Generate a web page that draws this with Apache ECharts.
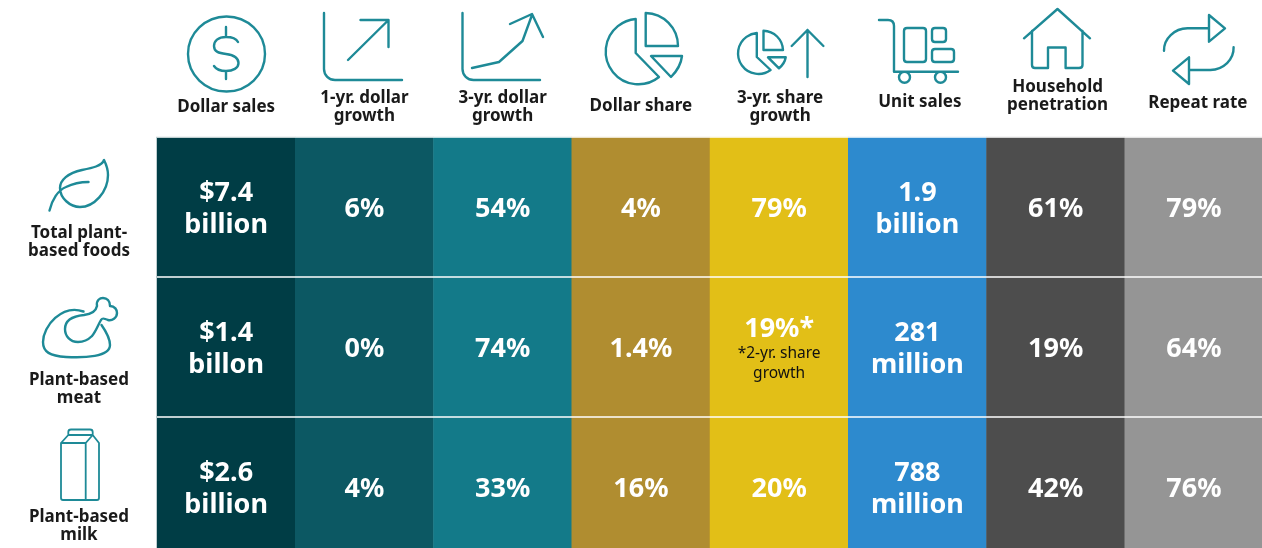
<!DOCTYPE html>
<html>
<head>
<meta charset="utf-8">
<title>Plant-based foods scorecard</title>
<script src="https://cdn.jsdelivr.net/npm/echarts@6/dist/echarts.min.js"></script>
<style>
  html, body { margin: 0; background: #fff; }
  #chart { width: 1262px; height: 548px; }
</style>
</head>
<body>
<div id="chart"></div>
<script>
const metrics = ['Dollar sales', '1-yr. dollar\ngrowth', '3-yr. dollar\ngrowth', 'Dollar share', '3-yr. share\ngrowth', 'Unit sales', 'Household\npenetration', 'Repeat rate']
const products = ['Total plant-\nbased foods', 'Plant-based\nmeat', 'Plant-based\nmilk']

const dollarSales = [7.4, 1.4, 2.6]
const dollarSalesUnits = ['billion', 'billon', 'billion']
const oneYearGrowth = [6, 0, 4]
const threeYearGrowth = [54, 74, 33]
const dollarShare = [4, 1.4, 16]
const shareGrowth = [79, 19, 20]
const unitSales = [1.9, 281, 788]
const unitSalesUnits = ['billion', 'million', 'million']
const penetration = [61, 19, 42]
const repeatRate = [79, 64, 76]

const columnColors = ['#003d45', '#0c5863', '#137a89', '#b08d30', '#e2bf17', '#2d8ace', '#4d4d4d', '#959595']
const teal = '#1e8a97'

// label placement, the headers and row names do not share a baseline
const headerCenters = [107, 107.5, 107.5, 106, 107, 102, 96, 103]
const headerShifts = [0, 0, 0, 0, 1, 2.5, 2, 4]
const rowLabelOffsets = [35, 42, 39]

const percent = (values) => values.map((v) => `${v}%`)
const withUnit = (prefix, values, units) => values.map((v, i) => `${prefix}${v}\n${units[i]}`)

const columns = [dollarSales, oneYearGrowth, threeYearGrowth, dollarShare, shareGrowth, unitSales, penetration, repeatRate]
const cellText = [
  withUnit('$', dollarSales, dollarSalesUnits),
  percent(oneYearGrowth),
  percent(threeYearGrowth),
  percent(dollarShare),
  percent(shareGrowth),
  withUnit('', unitSales, unitSalesUnits),
  percent(penetration),
  percent(repeatRate),
]
// the meat row only has two years of share data
cellText[4][1] = '{big|19%*}\n{note|*2-yr. share}\n{note|growth}'

const cells = []
columns.forEach((column, x) => {
  column.forEach((value, y) => {
    cells.push({ value: [x, y, value], itemStyle: { color: columnColors[x] } })
  })
})

const iconPaths = {
  dollarIcon: 'M265 54 A38.5 37.5 0 1 1 188 54 A38.5 37.5 0 1 1 265 54 Z M238 42 C236 38 232 37 226 37 C218 37 214 41 214 46 C214 52 219 53 226 54 C233 55 238.5 57 238.5 63 C238.5 68 233 71 226 71 C220 71 216 69 214 66 M226 27 V37 M226 71 V79',
  oneYearIcon: 'M324 13 V69 A11 11 0 0 0 335 80 H402 M348 60 L388.5 20 M360.5 20 H388.5 V47',
  threeYearIcon: 'M462.5 13 V69 A11 11 0 0 0 473.5 80 H540 M472 68 L499 62 L522.5 41 L532 15 M510 24 L532 14 L543 37',
  shareIcon: 'M635.7 19 V53 L659 77 A32.7 32.7 0 1 1 635.7 19 Z M645.7 13 V46 H678 A33 33 0 0 0 645.7 13 Z M651 56 H682 C681 65 677 71 671 77 Z',
  shareGrowthIcon: 'M756.8 33 V57 L770.6 70 A20.5 20.5 0 1 1 756.8 33 Z M763.5 30.7 V50 H783 A20 20 0 0 0 763.5 30.7 Z M768 57.3 H785.7 C785 62 783 65 779 68.3 Z M807.5 30 V77 M791.7 46 L807.5 30 L823.4 46',
  cartIcon: 'M879 20 H888 Q894 20 894 26 V71.7 H958 M910 77.3 A5.5 5.5 0 1 1 899 77.3 A5.5 5.5 0 1 1 910 77.3 Z M946 77.3 A5.5 5.5 0 1 1 935 77.3 A5.5 5.5 0 1 1 946 77.3 Z M907 28 H923 Q926 28 926 31 V59 Q926 62 923 62 H907 Q904 62 904 59 V31 Q904 28 907 28 Z M935 28 H943 Q946 28 946 31 V39 Q946 42 943 42 H935 Q932 42 932 39 V31 Q932 28 935 28 Z M935 49 H951 Q954 49 954 52 V59 Q954 62 951 62 H935 Q932 62 932 59 V52 Q932 49 935 49 Z',
  houseIcon: 'M1024 38.3 L1057.5 9 L1090 38.3 M1032 31 V65 Q1032 68 1035 68 H1048 V47.5 H1065.6 V68 H1079 Q1082.5 68 1082.5 65 V31',
  repeatIcon: 'M1164 50.7 A24 22 0 0 1 1189 28.3 H1209 M1209 15 L1225 28.3 L1209 41.7 Z M1233.6 47.3 A24 22 0 0 1 1210 70 H1189 M1189 57.3 L1173 70.7 L1189 84 Z',
  leafIcon: 'M49.5 210.5 C52 200 58 190 66 187 C72 184 80 182 88.5 182 M104 160 C102 166 92 168 82 170 C68 173 60 180 60 188 C60 198 70 207 80 207 C94 207 108 192 108 175 C108 170 106 164 104 160 Z',
  chickenIcon: 'M83.5 311.5 C62 304 43 326 43 342 C43 352 50 356 66 357 C84 358 110 357 110 345 C110 338 105 330 101.5 325 M92 336 C88 340 84 342 78 342 C70 342 65 336 65 329 C65 320 74 316 84 315 C92 314 96 311 97 306 C96 300 100 298 103 298 C107 298 110 301 110 306 C115 306 117 310 117 313 C117 318 112 321 108 320 C104 319 103 317 101 320 C98 325 96 331 92 336',
  milkIcon: 'M61 443 V498 Q61 500 63 500 H97 Q99 500 99 498 V443 L92.7 435 H68.3 L61 443 H85.7 V500 M85.7 443 L92.7 435 M68.3 435 V432 Q68.3 429.5 71 429.5 H90 Q92.7 429.5 92.7 432 V435',
}

Object.entries(iconPaths).forEach(([name, path]) => {
  echarts.graphic.registerShape(name, echarts.graphic.extendPath(path))
})

const font = '"Noto Sans", sans-serif'
const chart = echarts.init(document.getElementById('chart'), null, { renderer: 'canvas' })

chart.setOption({
  animation: false,
  backgroundColor: '#fff',
  tooltip: { show: false },
  grid: { left: 157, top: 137, width: 1106, height: 420, outerBoundsMode: 'none' },
  xAxis: {
    type: 'category',
    position: 'top',
    data: metrics.map((name, i) => ({
      value: name,
      textStyle: { padding: [0, 0, 137 - headerCenters[i] - (name.includes('\n') ? 18 : 9), headerShifts[i] * 2] },
    })),
    axisLine: { show: false },
    axisTick: { show: false },
    axisLabel: { interval: 0, margin: 0, color: '#1a1a1a', fontFamily: font, fontWeight: 'bold', fontSize: 17, lineHeight: 18 },
  },
  yAxis: {
    type: 'category',
    inverse: true,
    z: 4,
    data: products.map((name, i) => ({
      value: name,
      textStyle: { align: 'center', verticalAlign: 'top', padding: [rowLabelOffsets[i] - 18, 0, 0, 0] },
    })),
    axisLine: { show: false },
    axisTick: { show: false },
    splitLine: { show: true, interval: 0, lineStyle: { color: '#fff', width: 1.5 } },
    axisLabel: { interval: 0, margin: 78, align: 'center', color: '#1a1a1a', fontFamily: font, fontWeight: 'bold', fontSize: 17, lineHeight: 18 },
  },
  series: [{
    type: 'heatmap',
    data: cells,
    emphasis: { disabled: true },
    label: {
      show: true,
      offset: [0, 2],
      formatter: (p) => cellText[p.value[0]][p.value[1]],
      color: '#fff',
      fontFamily: font,
      fontWeight: 'bold',
      fontSize: 27,
      lineHeight: 32,
      rich: {
        big: { color: '#fff', fontFamily: font, fontWeight: 'bold', fontSize: 27, lineHeight: 30 },
        note: { color: '#111', fontFamily: font, fontWeight: 'normal', fontSize: 15.5, lineHeight: 20 },
      },
    },
  }],
  graphic: Object.keys(iconPaths).map((name) => ({
    type: name,
    silent: true,
    style: { fill: 'none', stroke: teal, lineWidth: name === 'milkIcon' ? 1.8 : 2.4, lineCap: 'round', lineJoin: 'round' },
  })),
})
</script>
</body>
</html>
